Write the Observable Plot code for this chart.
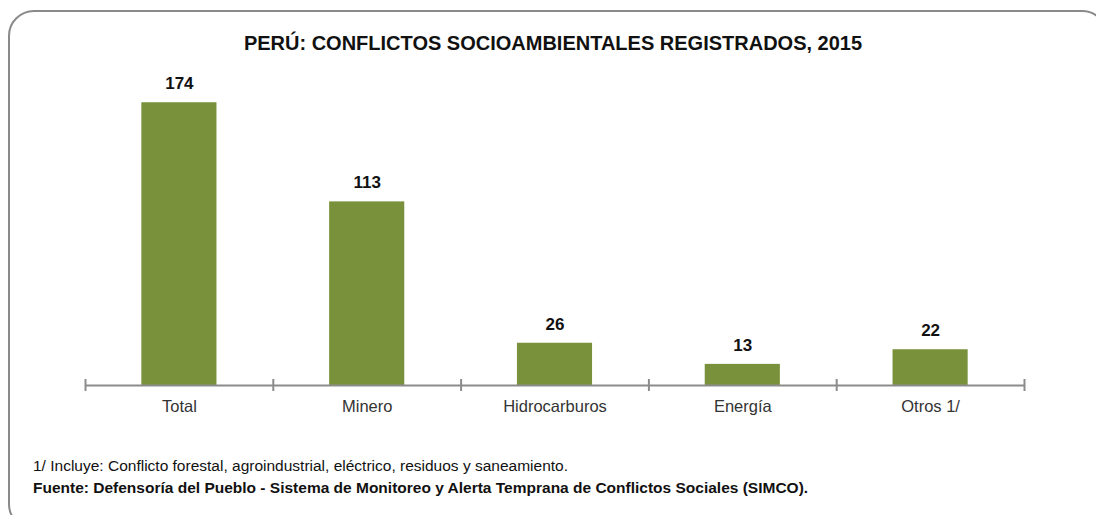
<!DOCTYPE html>
<html>
<head>
<meta charset="utf-8">
<script src="https://cdn.jsdelivr.net/npm/d3@7"></script>
<script src="https://cdn.jsdelivr.net/npm/@observablehq/plot@0.6"></script>
<style>
  html, body { margin: 0; padding: 0; background: #fff; }
  #wrap { position: relative; width: 1096px; height: 515px; overflow: hidden; }
  #frame { position: absolute; left: 8px; top: 10px; width: 1100px; height: 520px; box-sizing: border-box;
           border: 2px solid #8a8a8a; border-radius: 26px; }
  #title { position: absolute; left: 0; width: 1106px; top: 32px; text-align: center;
           font-family: "Liberation Sans Narrow", "Arial Narrow", "Liberation Sans", sans-serif;
           font-weight: bold; font-size: 20px; color: #111; letter-spacing: 0; }
  #chart { position: absolute; left: 0; top: 0; }
  .note { position: absolute; left: 33px; font-family: "Liberation Sans Narrow", "Arial Narrow", "Liberation Sans", sans-serif; color: #111; white-space: nowrap; }
  #n1 { top: 457px; font-size: 15.5px; }
  #n2 { top: 479px; font-size: 15.5px; font-weight: bold; }
</style>
</head>
<body>
<div id="wrap">
  <div id="frame"></div>
  <div id="title">PERÚ: CONFLICTOS SOCIOAMBIENTALES REGISTRADOS, 2015</div>
  <div id="chart"></div>
  <div class="note" id="n1">1/ Incluye: Conflicto forestal, agroindustrial, eléctrico, residuos y saneamiento.</div>
  <div class="note" id="n2">Fuente: Defensoría del Pueblo - Sistema de Monitoreo y Alerta Temprana de Conflictos Sociales (SIMCO).</div>
</div>
<script>
const categories = ["Total", "Minero", "Hidrocarburos", "Energía", "Otros 1/"];
const values = [174, 113, 26, 13, 22];

const data = categories.map((c, i) => ({ cat: c, i, value: values[i] }));
const boundaries = d3.range(categories.length + 1);

const chart = Plot.plot({
  width: 1096,
  height: 430,
  marginTop: 60,
  marginBottom: 45,
  marginLeft: 85,
  marginRight: 72,
  x: { domain: [0, categories.length], axis: null },
  y: { domain: [0, 200], axis: null },
  style: { fontFamily: "Liberation Sans, Arial, sans-serif", background: "transparent" },
  marks: [
    Plot.rectY(data, { x1: d => d.i + 0.3, x2: d => d.i + 0.7, y: "value", fill: "#78913a" }),
    Plot.ruleY([0], { stroke: "#8c8c8c", strokeWidth: 2 }),
    Plot.ruleX(boundaries, { x: d => d, y1: 0, y2: 0, insetTop: -6, insetBottom: -6, stroke: "#8c8c8c", strokeWidth: 2 }),
    Plot.text(data, { x: d => d.i + 0.5, y: "value", text: d => String(d.value), dy: -19, fontSize: 17, fontWeight: "bold", fill: "#111" }),
    Plot.text(data, { x: d => d.i + 0.5, y: 0, text: "cat", dy: 21, fontSize: 16.5, fill: "#333" })
  ]
});
document.getElementById("chart").appendChild(chart);
</script>
</body>
</html>
